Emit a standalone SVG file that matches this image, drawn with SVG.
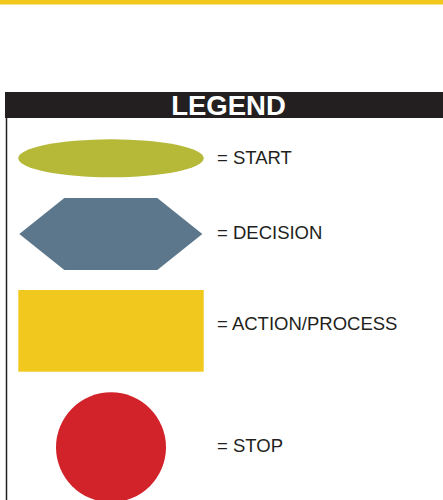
<svg xmlns="http://www.w3.org/2000/svg" width="443" height="500" viewBox="0 0 443 500">
<style>
.lbl{font-family:"Liberation Sans",Arial,sans-serif;font-size:18.5px;fill:#231f20}
</style>
<rect x="0" y="0" width="443" height="500" fill="#ffffff"/>
<rect x="0" y="0" width="443" height="4.5" fill="#f2c81b"/>
<rect x="5" y="92" width="438" height="26" fill="#231f20"/>
<line x1="6.5" y1="118" x2="6.5" y2="500" stroke="#231f20" stroke-width="1.5"/>
<text x="228.5" y="115" text-anchor="middle" font-family="'Liberation Sans',Arial,sans-serif" font-weight="bold" font-size="27.5" fill="#ffffff">LEGEND</text>
<g id="start">
<ellipse cx="111" cy="158.3" rx="92.7" ry="19" fill="#b5b937"/>
<text class="lbl" x="217" y="163.5">= START</text>
</g>
<g id="decision">
<polygon points="19.3,234 64.3,198 157.3,198 202.3,234 157.3,270 64.3,270" fill="#5c778b"/>
<text class="lbl" x="217" y="239">= DECISION</text>
</g>
<g id="action">
<rect x="18.3" y="290" width="185.4" height="81.7" fill="#f0c81e"/>
<text class="lbl" x="217" y="330">= ACTION/PROCESS</text>
</g>
<g id="stop">
<circle cx="111" cy="447.3" r="55" fill="#d2232a"/>
<text class="lbl" x="217" y="451.5">= STOP</text>
</g>
<g id="connectors"/>
</svg>
